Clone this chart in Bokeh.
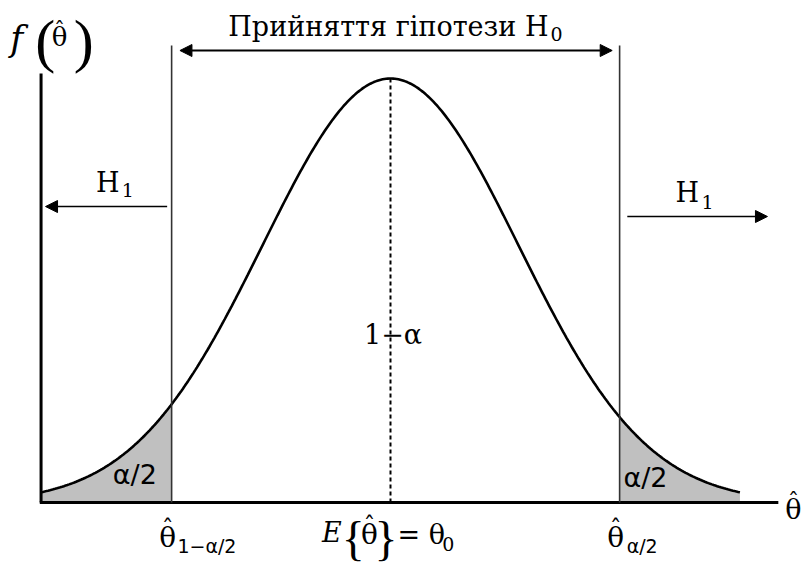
import numpy as np
from bokeh.plotting import figure
from bokeh.models import Range1d, Label, Arrow, NormalHead
from bokeh.embed import file_html
from bokeh.resources import INLINE

# Standardised estimator axis: theta0 at 0, one unit = one sigma
theta0 = 0.0
sigma = 1.0
theta_lo = -1.71      # lower critical value  theta_{1-alpha/2}
theta_hi = 1.79       # upper critical value  theta_{alpha/2}
curve_from = -2.73    # extent of the drawn density
curve_to = 2.73
axis_end = 3.03       # end of the horizontal axis line
axis_top = 1.012      # top of the vertical axis line
crit_top = 1.078      # top of the critical-value lines

# density, normalised so that the peak equals 1
x = np.linspace(curve_from, curve_to, 400)
dens = np.exp(-0.5 * ((x - theta0) / sigma) ** 2)

p = figure(width=803, height=564, output_backend="svg", toolbar_location=None,
           x_range=Range1d(-3.0469, 3.2266), y_range=Range1d(-0.14623, 1.18396),
           min_border=0)
p.axis.visible = False
p.grid.visible = False
p.outline_line_color = None
p.background_fill_color = "white"
p.border_fill_color = "white"

SERIF = "DejaVu Serif"
SANS = "DejaVu Sans"
THIN = "Liberation Serif"

# rejection tails
lo = x <= theta_lo
hi = x >= theta_hi
p.varea(x=np.append(x[lo], theta_lo), y1=0,
        y2=np.append(dens[lo], np.exp(-0.5 * theta_lo ** 2)), fill_color="#c0c0c0")
p.varea(x=np.insert(x[hi], 0, theta_hi), y1=0,
        y2=np.insert(dens[hi], 0, np.exp(-0.5 * theta_hi ** 2)), fill_color="#c0c0c0")

# density curve
p.line(x, dens, line_color="black", line_width=2.6)

# axes
p.line([curve_from, curve_from], [0, axis_top], line_color="black", line_width=3)
p.line([curve_from - 0.01, axis_end], [0, 0], line_color="black", line_width=3)

# critical values and centre
p.segment(x0=[theta_lo, theta_hi], y0=[0, 0], x1=[theta_lo, theta_hi], y1=[crit_top, crit_top],
          line_color="#333333", line_width=1.6)
p.line([theta0, theta0], [0, 1.0], line_color="black", line_width=2, line_dash="4 3")

# arrows
def head():
    return NormalHead(size=12, fill_color="black", line_color="black")

p.add_layout(Arrow(start=head(), end=head(), x_start=theta_lo + 0.065, x_end=theta_hi - 0.058,
                   y_start=1.066, y_end=1.066, line_width=1.8))
p.add_layout(Arrow(end=head(), x_start=theta_lo - 0.035, x_end=curve_from + 0.035,
                   y_start=0.698, y_end=0.698, line_width=1.6))
p.add_layout(Arrow(end=head(), x_start=theta_hi + 0.06, x_end=2.945,
                   y_start=0.6745, y_end=0.6745, line_width=1.6))


def lab(x, y, text, size, font=SERIF, style="normal", align="left", baseline="alphabetic"):
    p.add_layout(Label(x=x, y=y, text=text, text_font=font, text_font_size=f"{size}px",
                       text_font_style=style, text_align=align, text_baseline=baseline,
                       text_color="black"))


def theta_hat(xc, y, size=28):
    # estimator symbol: theta with a circumflex above it
    lab(xc, y, "\u03b8", size, align="center")
    lab(xc, y + size * 0.00070, "\u02c6", size * 0.85, align="center")


# title over the acceptance region
lab(1.234, 1.1227, "Прийняття гіпотези H", 27, align="right")
lab(1.25, 1.106, "0", 19)

# alternative hypotheses
lab(-2.30, 0.755, "H", 27)
lab(-2.10, 0.738, "1", 19)
lab(2.227, 0.731, "H", 27)
lab(2.43, 0.708, "1", 19)

# probabilities
lab(0.02, 0.396, "1\u2212\u03b1", 27, align="center")
lab(-2.17, 0.066, "\u03b1/2", 27, font=SANS)
lab(1.82, 0.059, "\u03b1/2", 27, font=SANS)

# critical value labels under the axis
theta_hat(theta_lo - 0.03, -0.0825)
lab(theta_lo + 0.045, -0.1037, "1\u2212\u03b1/2", 19, font=SANS)
theta_hat(theta_hi - 0.03, -0.0825)
lab(theta_hi + 0.055, -0.1037, "\u03b1/2", 19, font=SANS)

# expectation label
lab(-0.535, -0.0707, "E", 27, style="italic")
lab(-0.29, -0.084, "{", 48, font=THIN, align="center", baseline="middle")
theta_hat(-0.164, -0.0754)
lab(-0.035, -0.084, "}", 48, font=THIN, align="center", baseline="middle")
lab(0.055, -0.0754, "= \u03b8", 27)
lab(0.405, -0.099, "0", 19)

# axis names
theta_hat(3.148, -0.0165, 27)
lab(-2.97, 1.092, "f", 35, style="italic")
lab(-2.775, 1.088, "(", 60, font=THIN, baseline="middle")
theta_hat(-2.585, 1.097, 26)
lab(-2.475, 1.088, ")", 60, font=THIN, baseline="middle")

open("out.html", "w").write(file_html(p, INLINE))
